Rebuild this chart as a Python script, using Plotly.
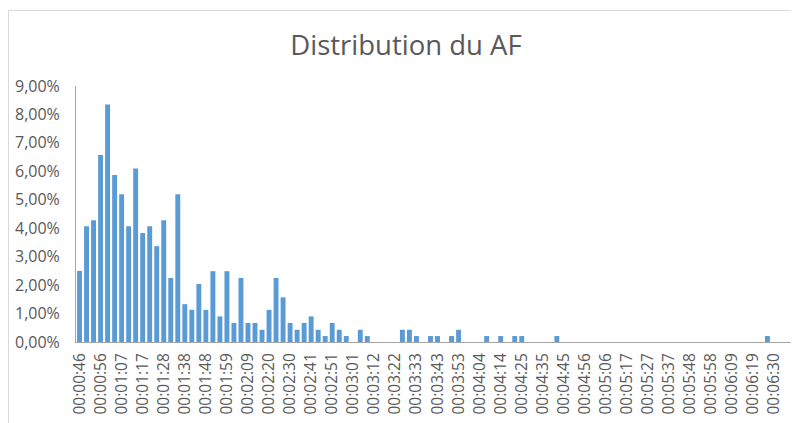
import plotly.graph_objects as go

values_pct = [
    2.50, 4.07, 4.28, 6.57, 8.35, 5.87, 5.19, 4.07, 6.10, 3.83,
    4.07, 3.37, 4.28, 2.25, 5.19, 1.33, 1.13, 2.04, 1.13, 2.49,
    0.90, 2.49, 0.67, 2.25, 0.67, 0.67, 0.43, 1.13, 2.25, 1.57,
    0.67, 0.43, 0.67, 0.90, 0.43, 0.21, 0.67, 0.43, 0.21, 0.00,
    0.43, 0.21, 0.00, 0.00, 0.00, 0.00, 0.43, 0.43, 0.21, 0.00,
    0.21, 0.21, 0.00, 0.21, 0.43, 0.00, 0.00, 0.00, 0.21, 0.00,
    0.21, 0.00, 0.21, 0.21, 0.00, 0.00, 0.00, 0.00, 0.21, 0.00,
    0.00, 0.00, 0.00, 0.00, 0.00, 0.00, 0.00, 0.00, 0.00, 0.00,
    0.00, 0.00, 0.00, 0.00, 0.00, 0.00, 0.00, 0.00, 0.00, 0.00,
    0.00, 0.00, 0.00, 0.00, 0.00, 0.00, 0.00, 0.00, 0.21, 0.00,
    0.00, 0.00,
]

# Tick labels shown every third bin
tick_labels = [
    "00:00:46", "00:00:56", "00:01:07", "00:01:17", "00:01:28", "00:01:38",
    "00:01:48", "00:01:59", "00:02:09", "00:02:20", "00:02:30", "00:02:41",
    "00:02:51", "00:03:01", "00:03:12", "00:03:22", "00:03:33", "00:03:43",
    "00:03:53", "00:04:04", "00:04:14", "00:04:25", "00:04:35", "00:04:45",
    "00:04:56", "00:05:06", "00:05:17", "00:05:27", "00:05:37", "00:05:48",
    "00:05:58", "00:06:09", "00:06:19", "00:06:30",
]
tick_step = 3

bin_index = list(range(len(values_pct)))
values = [v / 100 for v in values_pct]
tick_positions = [i * tick_step for i in range(len(tick_labels))]

font_family = "Open Sans, Lato, sans-serif"
text_color = "#595959"

fig = go.Figure(
    go.Bar(
        x=bin_index,
        y=values,
        marker=dict(color="#5B9BD5", line=dict(width=0)),
        hoverinfo="x+y",
    )
)

# the page body adds an 8px offset, so the figure is sized to the visible area
W, H = 791, 415
L, R, T, B = 68, 7, 78, 81
pw, ph = W - L - R, H - T - B

fig.update_layout(
    width=W,
    height=H,
    margin=dict(l=L, r=R, t=T, b=B, pad=0, autoexpand=False),
    paper_bgcolor="white",
    plot_bgcolor="white",
    separators=", ",
    bargap=0.3,
    showlegend=False,
    title=dict(
        text="Distribution du AF",
        x=398 / W,
        xanchor="center",
        y=1 - 37 / H,
        yanchor="middle",
        font=dict(family=font_family, size=27.5, color=text_color),
    ),
    font=dict(family=font_family, size=15, color=text_color),
    xaxis=dict(
        range=[-0.5, len(values_pct) - 0.5],
        tickmode="array",
        tickvals=tick_positions,
        ticktext=tick_labels,
        tickangle=-90,
        automargin=False,
        showline=True,
        linecolor="#a6a6a6",
        linewidth=1,
        showgrid=False,
        zeroline=False,
        ticks="",
        ticklabelstandoff=4,
        tickfont=dict(size=15.5, color=text_color),
    ),
    yaxis=dict(
        range=[0, 0.09],
        dtick=0.01,
        tickformat=".2%",
        automargin=False,
        showline=True,
        linecolor="#a6a6a6",
        linewidth=1,
        showgrid=False,
        zeroline=False,
        ticks="",
        ticklabelstandoff=12,
        tickfont=dict(size=16, color=text_color),
    ),
    shapes=[
        dict(
            type="rect",
            xref="paper",
            yref="paper",
            x0=(0.5 - L) / pw,
            x1=(W + 20 - L) / pw,
            y0=-(B + 20) / ph,
            y1=(H - B - 2.5) / ph,
            line=dict(color="#d9d9d9", width=1),
            fillcolor="rgba(0,0,0,0)",
            layer="below",
        )
    ],
)

fig.write_html("out.html")
